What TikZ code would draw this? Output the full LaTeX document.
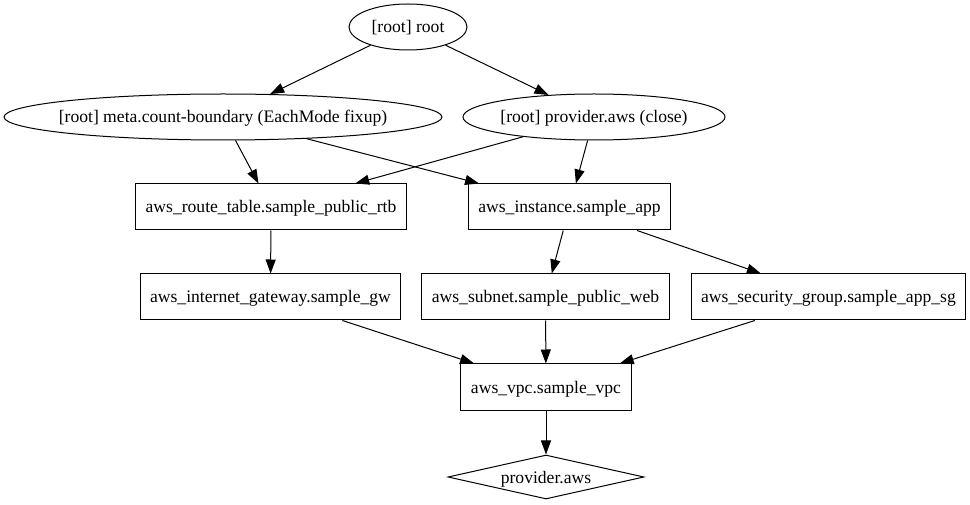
\documentclass[tikz,border=0pt]{standalone}
\usepackage{fontspec}
\setmainfont{Liberation Serif}
\usetikzlibrary{shapes.geometric,arrows.meta}
\begin{document}
\begin{tikzpicture}[x=1bp, y=-1bp,
        every node/.style={font=\fontsize{17.6bp}{20bp}\selectfont, line width=1bp, text height=0pt, text depth=0pt,
                           execute at begin node={\lower6bp\hbox\bgroup}, execute at end node={\egroup}},
        oval/.style={draw, ellipse, inner sep=0pt, minimum height=46bp},
        res/.style={draw, rectangle, inner xsep=10bp, minimum height=46bp},
        prov/.style={draw, diamond, inner sep=0pt, minimum width=196bp, minimum height=44bp},
        dep/.style={line width=1bp, -{Triangle[length=14bp, width=10bp]}}]
            \useasboundingbox (0,0) rectangle (970,505);
            \node[oval, minimum width=118bp] (root)      at (408.0, 27) {\makebox[0pt]{[root] root}};
            \node[oval, minimum width=438bp] (boundary)  at (223.0,117) {\makebox[0pt]{[root] meta.count-boundary (EachMode fixup)}};
            \node[oval, minimum width=262bp] (awsclose)  at (594.0,117) {\makebox[0pt]{[root] provider.aws (close)}};
            \node[res]                       (rtb)       at (271.0,207) {aws\_route\_table.sample\_public\_rtb};
            \node[res]                       (app)       at (569.5,207) {aws\_instance.sample\_app};
            \node[res]                       (gw)        at (270.5,297) {aws\_internet\_gateway.sample\_gw};
            \node[res]                       (web)       at (545.5,297) {aws\_subnet.sample\_public\_web};
            \node[res]                       (appsg)     at (828.5,297) {aws\_security\_group.sample\_app\_sg};
            \node[res]                       (vpc)       at (546.0,387) {aws\_vpc.sample\_vpc};
            \node[prov]                      (aws)       at (546.0,477) {\makebox[0pt]{provider.aws}};
            \draw[dep] (root)     -- (boundary);
            \draw[dep] (root)     -- (awsclose);
            \draw[dep] (boundary) -- (rtb);
            \draw[dep] (boundary) -- (app);
            \draw[dep] (awsclose) -- (rtb);
            \draw[dep] (awsclose) -- (app);
            \draw[dep] (rtb)      -- (gw);
            \draw[dep] (app)      -- (web);
            \draw[dep] (app)      -- (appsg);
            \draw[dep] (gw)       -- (vpc);
            \draw[dep] (web)      -- (vpc);
            \draw[dep] (appsg)    -- (vpc);
            \draw[dep] (vpc)      -- (aws);
        \end{tikzpicture}
\end{document}
